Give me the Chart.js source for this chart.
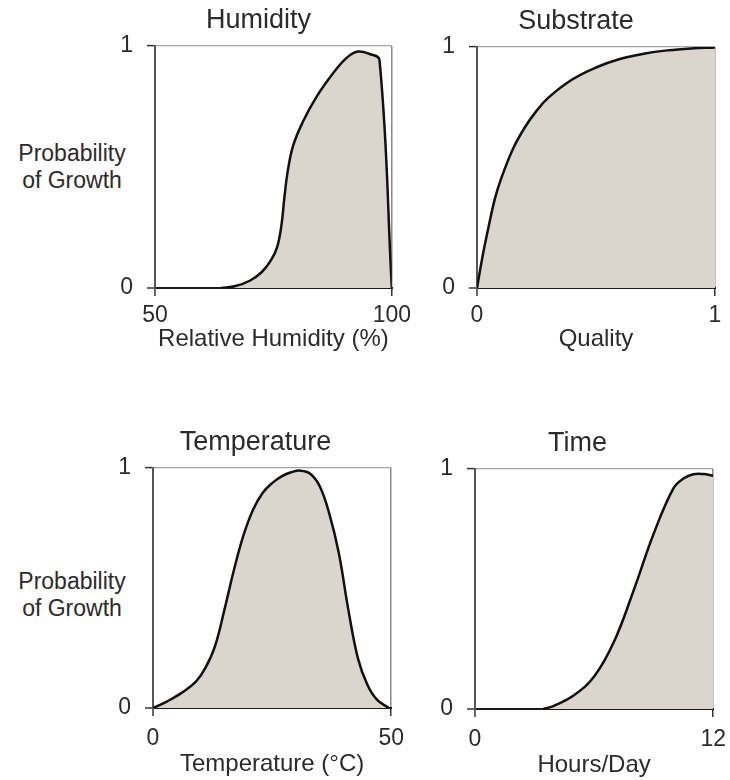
<!doctype html>
<html lang="en">
  <head>
    <meta charset="UTF-8" />
    <title>Probability of Growth</title>
    <script src="https://cdn.jsdelivr.net/npm/chart.js@4.4.1/dist/chart.umd.min.js"></script>
    <style>
      body {
        margin: 0;
        background: #fff;
        overflow: hidden;
        font-family: "Liberation Sans", Arial, sans-serif;
      }
      #page {
        position: relative;
        width: 730px;
        height: 780px;
        overflow: hidden;
      }
      #page canvas {
        position: absolute;
      }
      .ylabel {
        position: absolute;
        width: 140px;
        text-align: center;
        font-size: 23px;
        line-height: 27px;
        color: #2b2b2b;
      }
    </style>
  </head>
  <body>
    <div id="page">
      <div class="ylabel" style="left: 2px; top: 140px">Probability<br />of Growth</div>
      <div class="ylabel" style="left: 2px; top: 568px">Probability<br />of Growth</div>
      <canvas id="humidity" width="302" height="354" style="left: 115px; top: 0px"></canvas>
      <canvas id="substrate" width="293" height="353" style="left: 437px; top: 1px"></canvas>
      <canvas id="temperature" width="300" height="357" style="left: 113px; top: 422px"></canvas>
      <canvas id="time" width="300" height="357" style="left: 435px; top: 423px"></canvas>
    </div>
    <script>
      // curve readings, x then probability of growth
      const humidityX = [64, 67, 70, 72.5, 74.5, 75.8, 76.7, 77.3, 78, 79.2, 81.3, 84.1, 87.6, 90.4, 92.8, 95.3, 97.4, 100];
      const humidityY = [0, 0.008, 0.03, 0.065, 0.115, 0.17, 0.26, 0.37, 0.48, 0.59, 0.69, 0.79, 0.887, 0.95, 0.977, 0.967, 0.942, 0];

      const substrateX = [0, 0.025, 0.05, 0.075, 0.1, 0.15, 0.2, 0.25, 0.3, 0.4, 0.5, 0.6, 0.7, 0.8, 0.9, 1];
      const substrateY = [0, 0.14, 0.26, 0.37, 0.45, 0.575, 0.665, 0.735, 0.79, 0.865, 0.915, 0.95, 0.972, 0.986, 0.994, 0.998];

      const temperatureX = [0, 3, 6, 9, 11, 13, 15, 17, 19, 21, 23, 25, 27, 29, 31, 33, 35, 37, 39, 41, 43, 45, 47, 49.5];
      const temperatureY = [0, 0.028, 0.063, 0.11, 0.167, 0.257, 0.41, 0.576, 0.72, 0.826, 0.896, 0.937, 0.965, 0.982, 0.989, 0.976, 0.924, 0.81, 0.646, 0.41, 0.208, 0.097, 0.035, 0];

      const timeX = [3.44, 4, 5, 6, 7, 8, 9, 10, 10.5, 11, 11.5, 12];
      const timeY = [0, 0.014, 0.058, 0.135, 0.28, 0.496, 0.73, 0.92, 0.96, 0.978, 0.979, 0.972];

      // axis ends (only these two ticks are labelled)
      const humidityRange = [50, 100];
      const substrateRange = [0, 1];
      const temperatureRange = [0, 50];
      const timeRange = [0, 12];
      const probRange = [0, 1];

      Chart.defaults.font.family = '"Liberation Sans", Arial, sans-serif';
      Chart.defaults.color = "#2b2b2b";

      const fillColor = "rgb(219, 213, 206)";

      function makePanel(id, title, xTitle, xs, ys, range, row) {
        const [xMin, xMax] = range;
        const bottomRow = row === 1;
        return new Chart(document.getElementById(id), {
          type: "line",
          data: {
            datasets: [
              {
                data: xs.map((x, i) => ({ x: x, y: ys[i] })),
                borderColor: "#111",
                borderWidth: 2.5,
                backgroundColor: fillColor,
                fill: "origin",
                pointRadius: 0,
                tension: 0.4,
              },
            ],
          },
          options: {
            responsive: false,
            animation: false,
            layout: { padding: { right: 15 } },
            plugins: {
              legend: { display: false },
              tooltip: { enabled: false },
              title: {
                display: true,
                text: title,
                font: { size: 27, weight: "normal" },
                padding: { top: 4, bottom: 9.6 },
              },
            },
            scales: {
              x: {
                type: "linear",
                min: xMin,
                max: xMax,
                afterFit: (scale) => {
                  scale.height = bottomRow ? 71 : 66;
                },
                ticks: {
                  stepSize: xMax - xMin,
                  font: { size: 23 },
                  padding: bottomRow ? 9 : 6,
                  maxRotation: 0,
                },
                grid: {
                  color: (c) => (c.tick && c.tick.value === xMax ? "#8a8a8a" : "#555"),
                  lineWidth: (c) => (c.tick && c.tick.value === xMax ? 1.5 : 2),
                  tickColor: "#333",
                  tickLength: 8,
                  tickWidth: 1.5,
                },
                border: { color: "#1a1a1a", width: 2 },
                title: {
                  display: true,
                  text: xTitle,
                  font: { size: 24 },
                  padding: 0,
                },
              },
              y: {
                min: probRange[0],
                max: probRange[1],
                afterFit: (scale) => {
                  scale.width = 40;
                },
                ticks: {
                  stepSize: 1,
                  font: { size: 23 },
                  padding: 14,
                },
                grid: {
                  color: (c) => (c.tick && c.tick.value === probRange[1] ? "#a5a5a5" : "#1a1a1a"),
                  lineWidth: (c) => (c.tick && c.tick.value === probRange[1] ? 1.2 : 2),
                  tickColor: "#333",
                  tickLength: 8,
                  tickWidth: 1.5,
                },
                border: { color: "#555", width: 2 },
              },
            },
          },
        });
      }

      makePanel("humidity", "Humidity", "Relative Humidity (%)", humidityX, humidityY, humidityRange, 0);
      makePanel("substrate", "Substrate", "Quality", substrateX, substrateY, substrateRange, 0);
      makePanel("temperature", "Temperature", "Temperature (\u00b0C)", temperatureX, temperatureY, temperatureRange, 1);
      makePanel("time", "Time", "Hours/Day", timeX, timeY, timeRange, 1);
    </script>
  </body>
</html>
